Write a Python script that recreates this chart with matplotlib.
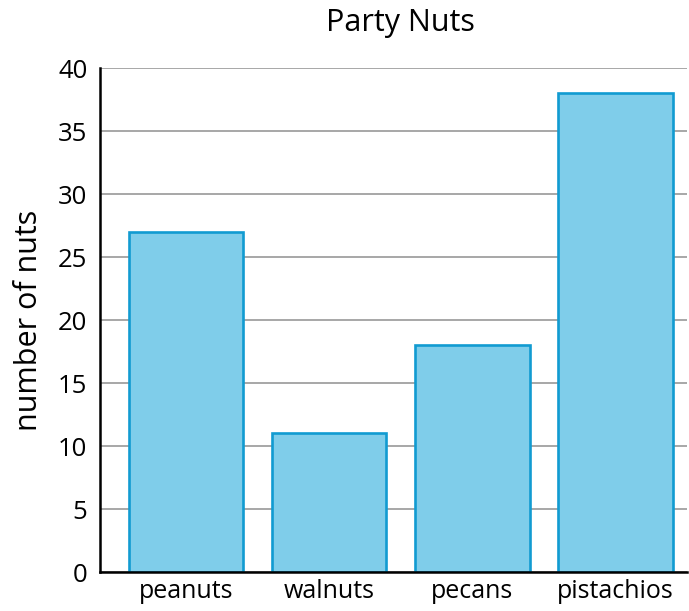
import matplotlib.pyplot as plt

# Data
nuts = ['peanuts', 'walnuts', 'pecans', 'pistachios']
counts = [27, 11, 18, 38]
y_ticks = [0, 5, 10, 15, 20, 25, 30, 35, 40]

plt.rcParams['font.family'] = ['Open Sans', 'DejaVu Sans']

fig = plt.figure(figsize=(6.89, 6.11), dpi=100)
ax = fig.add_axes([0.1451, 0.0638, 0.852, 0.8249])

x = list(range(len(nuts)))
ax.bar(x, counts, width=0.8, color='#7fcdea', edgecolor='#119bd1',
       linewidth=1.9, zorder=3)

ax.set_xlim(-0.6, 3.5)
ax.set_ylim(0, 40)
ax.set_yticks(y_ticks)
ax.set_xticks(x)
ax.set_xticklabels(nuts)
ax.tick_params(axis='both', length=0, labelsize=18)
ax.tick_params(axis='y', labelsize=18.5, pad=9)
ax.tick_params(axis='x', pad=5)

ax.grid(axis='y', color='#a0a0a0', linewidth=1.3, zorder=0)
for s in ['top', 'right']:
    ax.spines[s].set_visible(False)
ax.spines['left'].set_linewidth(1.8)
ax.spines['bottom'].set_linewidth(1.8)
ax.spines['left'].set_zorder(4)
ax.spines['bottom'].set_zorder(4)

ax.set_ylabel('number of nuts', fontsize=22, labelpad=10)
fig.text(0.581, 0.962, 'Party Nuts', fontsize=22, ha='center', va='center')

fig.savefig('out.png', dpi=100)
